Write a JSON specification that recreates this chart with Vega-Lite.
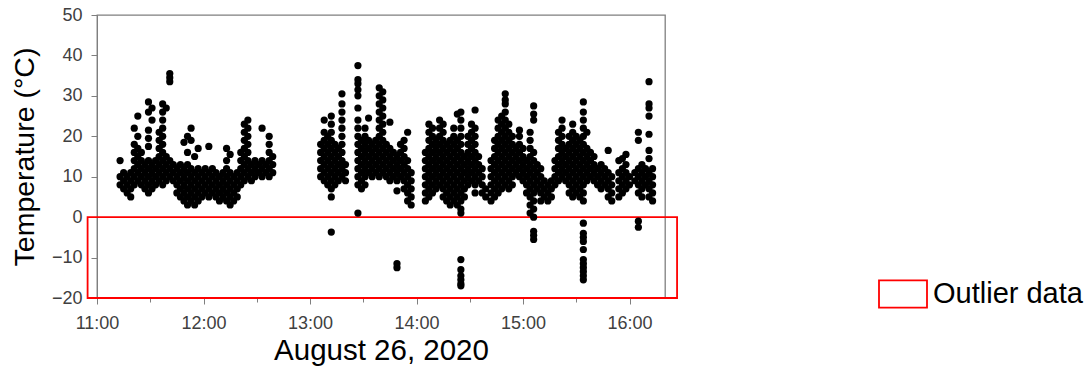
{
"$schema": "https://vega.github.io/schema/vega-lite/v6.json",
"width": 568, "height": 283,
"autosize": {"type": "none"},
"padding": {"left": 97, "top": 15, "right": 424, "bottom": 74},
"config": {"view": {"stroke": "#7f7f7f", "strokeWidth": 1.3}, "font": "Liberation Sans"},
"layer": [
{"data": {"values": [{"x1": -5.3, "x2": 326.8, "y1": -20, "y2": 0, "kind": "Outlier data"}]},
 "mark": {"type": "rect", "filled": false, "strokeWidth": 1.8},
 "encoding": {
  "x": {"field": "x1", "type": "quantitative", "scale": {"domain": [0, 320], "nice": false, "zero": false},
   "axis": {"title": "August 26, 2020", "titleFontSize": 29.5, "titleFontWeight": "normal", "titleColor": "#000", "titlePadding": 4,
    "values": [0, 30, 60, 90, 120, 150, 180, 210, 240, 270, 300],
    "labelExpr": "datum.value % 60 === 0 ? (11 + datum.value / 60) + ':00' : ''",
    "labelFontSize": 18, "labelColor": "#404040", "labelPadding": 10, "labelFlush": false,
    "tickSize": {"condition": {"test": "datum.value % 60 === 0", "value": 6}, "value": 4},
    "tickColor": "#7f7f7f", "domainColor": "#7f7f7f", "grid": false}},
  "x2": {"field": "x2"},
  "y": {"field": "y1", "type": "quantitative", "scale": {"domain": [-20, 50], "nice": false},
   "axis": {"title": "Temperature (°C)", "titleFontSize": 28.5, "titleFontWeight": "normal", "titleColor": "#000", "titlePadding": 12,
    "values": [-20, -10, 0, 10, 20, 30, 40, 50], "labelFontSize": 18, "labelColor": "#404040", "labelPadding": 9, "labelFlush": false,
    "tickSize": 6, "tickColor": "#7f7f7f", "domainColor": "#7f7f7f", "grid": false}},
  "y2": {"field": "y2"},
  "color": {"field": "kind", "type": "nominal", "scale": {"range": ["#ff0000"]},
   "legend": {"title": null, "orient": "none", "legendX": 781, "legendY": 254, "padding": 0,
    "symbolType": "M-1,-0.57H1V0.57H-1Z", "symbolSize": 2304, "symbolStrokeWidth": 1.8, "symbolFillColor": "transparent",
    "labelFontSize": 29, "labelColor": "#000", "labelOffset": 5, "labelLimit": 400}}
 }},
{"data": {"values": [
{"min":13,"temp":8},{"min":13,"temp":10},{"min":13,"temp":14},
{"min":15,"temp":7},{"min":15,"temp":9},{"min":15,"temp":11},
{"min":17,"temp":6},{"min":17,"temp":8},{"min":17,"temp":10},
{"min":19,"temp":5},{"min":19,"temp":7},{"min":19,"temp":9},{"min":19,"temp":11},
{"min":21,"temp":8},{"min":21,"temp":10},{"min":21,"temp":12},{"min":21,"temp":14},{"min":21,"temp":16},{"min":21,"temp":18},{"min":21,"temp":22},
{"min":23,"temp":9},{"min":23,"temp":11},{"min":23,"temp":13},{"min":23,"temp":15},{"min":23,"temp":17},{"min":23,"temp":20},{"min":23,"temp":25},
{"min":25,"temp":8},{"min":25,"temp":10},{"min":25,"temp":12},{"min":25,"temp":14},{"min":25,"temp":16},
{"min":27,"temp":7},{"min":27,"temp":9},{"min":27,"temp":11},{"min":27,"temp":13},
{"min":29,"temp":6},{"min":29,"temp":8},{"min":29,"temp":10},{"min":29,"temp":12},{"min":29,"temp":14},{"min":29,"temp":17.5},{"min":29,"temp":19.5},{"min":29,"temp":21.5},{"min":29,"temp":26},{"min":29,"temp":28.5},
{"min":31,"temp":7},{"min":31,"temp":9},{"min":31,"temp":11},{"min":31,"temp":13},{"min":31,"temp":24},{"min":31,"temp":27},
{"min":33,"temp":8},{"min":33,"temp":10},{"min":33,"temp":12},{"min":33,"temp":14},
{"min":35,"temp":9},{"min":35,"temp":11},{"min":35,"temp":13},{"min":35,"temp":15},{"min":35,"temp":17},{"min":35,"temp":19},{"min":35,"temp":21},
{"min":37,"temp":8},{"min":37,"temp":10},{"min":37,"temp":12},{"min":37,"temp":14},{"min":37,"temp":16},{"min":37,"temp":18},{"min":37,"temp":20},{"min":37,"temp":22},{"min":37,"temp":24},{"min":37,"temp":26},{"min":37,"temp":28},
{"min":39,"temp":9},{"min":39,"temp":11},{"min":39,"temp":13},{"min":39,"temp":15},{"min":39,"temp":27},
{"min":41,"temp":10},{"min":41,"temp":12},{"min":41,"temp":14},{"min":41,"temp":33.5},{"min":41,"temp":34.5},{"min":41,"temp":35.5},
{"min":43,"temp":9},{"min":43,"temp":11},{"min":43,"temp":13},
{"min":45,"temp":6},{"min":45,"temp":8},{"min":45,"temp":10},{"min":45,"temp":12},
{"min":47,"temp":5},{"min":47,"temp":7},{"min":47,"temp":9},{"min":47,"temp":11},{"min":47,"temp":13},
{"min":49,"temp":4},{"min":49,"temp":6},{"min":49,"temp":8},{"min":49,"temp":10},{"min":49,"temp":12},{"min":49,"temp":18.5},
{"min":51,"temp":3},{"min":51,"temp":5},{"min":51,"temp":7},{"min":51,"temp":9},{"min":51,"temp":11},{"min":51,"temp":13},{"min":51,"temp":16},{"min":51,"temp":20},
{"min":53,"temp":4},{"min":53,"temp":6},{"min":53,"temp":8},{"min":53,"temp":10},{"min":53,"temp":12},{"min":53,"temp":19},{"min":53,"temp":22},
{"min":55,"temp":3},{"min":55,"temp":5},{"min":55,"temp":7},{"min":55,"temp":9},{"min":55,"temp":11},{"min":55,"temp":15},
{"min":57,"temp":4},{"min":57,"temp":6},{"min":57,"temp":8},{"min":57,"temp":10},{"min":57,"temp":12},{"min":57,"temp":17},
{"min":59,"temp":5},{"min":59,"temp":7},{"min":59,"temp":9},{"min":59,"temp":11},
{"min":61,"temp":6},{"min":61,"temp":8},{"min":61,"temp":10},{"min":61,"temp":12},
{"min":63,"temp":5},{"min":63,"temp":7},{"min":63,"temp":9},{"min":63,"temp":11},{"min":63,"temp":17.5},
{"min":65,"temp":6},{"min":65,"temp":8},{"min":65,"temp":10},{"min":65,"temp":12},
{"min":67,"temp":5},{"min":67,"temp":7},{"min":67,"temp":9},{"min":67,"temp":11},
{"min":69,"temp":4},{"min":69,"temp":6},{"min":69,"temp":8},{"min":69,"temp":10},
{"min":71,"temp":5},{"min":71,"temp":7},{"min":71,"temp":9},{"min":71,"temp":11},
{"min":73,"temp":4},{"min":73,"temp":6},{"min":73,"temp":8},{"min":73,"temp":10},{"min":73,"temp":12},{"min":73,"temp":14},{"min":73,"temp":17},
{"min":75,"temp":3},{"min":75,"temp":5},{"min":75,"temp":7},{"min":75,"temp":9},{"min":75,"temp":11},{"min":75,"temp":15.5},
{"min":77,"temp":4},{"min":77,"temp":6},{"min":77,"temp":8},{"min":77,"temp":10},
{"min":79,"temp":5},{"min":79,"temp":7},{"min":79,"temp":9},{"min":79,"temp":11},
{"min":81,"temp":8},{"min":81,"temp":10},{"min":81,"temp":12},{"min":81,"temp":14},{"min":81,"temp":16},
{"min":83,"temp":9},{"min":83,"temp":11},{"min":83,"temp":13},{"min":83,"temp":15},{"min":83,"temp":17},{"min":83,"temp":19},{"min":83,"temp":21},{"min":83,"temp":23},
{"min":85,"temp":10},{"min":85,"temp":12},{"min":85,"temp":14},{"min":85,"temp":16},{"min":85,"temp":18},{"min":85,"temp":20},{"min":85,"temp":22},{"min":85,"temp":24},
{"min":87,"temp":9},{"min":87,"temp":11},{"min":87,"temp":13},
{"min":89,"temp":10},{"min":89,"temp":12},{"min":89,"temp":14},
{"min":91,"temp":11},{"min":91,"temp":13},
{"min":93,"temp":10},{"min":93,"temp":12},{"min":93,"temp":14},{"min":93,"temp":22},
{"min":95,"temp":11},{"min":95,"temp":13},
{"min":97,"temp":10},{"min":97,"temp":12},{"min":97,"temp":14},{"min":97,"temp":16},{"min":97,"temp":18},{"min":97,"temp":20},
{"min":99,"temp":11},{"min":99,"temp":13},{"min":99,"temp":15},
{"min":126,"temp":10},{"min":126,"temp":12},{"min":126,"temp":14},{"min":126,"temp":16},{"min":126,"temp":18},
{"min":128,"temp":9},{"min":128,"temp":11},{"min":128,"temp":13},{"min":128,"temp":15},{"min":128,"temp":17},{"min":128,"temp":19},{"min":128,"temp":21},{"min":128,"temp":24},
{"min":130,"temp":8},{"min":130,"temp":10},{"min":130,"temp":12},{"min":130,"temp":14},{"min":130,"temp":16},{"min":130,"temp":18},{"min":130,"temp":20},
{"min":132,"temp":5},{"min":132,"temp":7},{"min":132,"temp":9},{"min":132,"temp":11},{"min":132,"temp":13},{"min":132,"temp":15},{"min":132,"temp":17},{"min":132,"temp":19},{"min":132,"temp":21},{"min":132,"temp":23},{"min":132,"temp":25},{"min":132,"temp":-3.7},
{"min":134,"temp":8},{"min":134,"temp":10},{"min":134,"temp":12},{"min":134,"temp":14},{"min":134,"temp":16},{"min":134,"temp":18},
{"min":136,"temp":9},{"min":136,"temp":11},{"min":136,"temp":13},{"min":136,"temp":15},{"min":136,"temp":17},
{"min":138,"temp":10},{"min":138,"temp":12},{"min":138,"temp":14},{"min":138,"temp":16},{"min":138,"temp":18},{"min":138,"temp":20},{"min":138,"temp":22},{"min":138,"temp":24},{"min":138,"temp":26},{"min":138,"temp":28},{"min":138,"temp":30.5},
{"min":140,"temp":9},{"min":140,"temp":11},{"min":140,"temp":13},
{"min":147,"temp":8},{"min":147,"temp":10},{"min":147,"temp":12},{"min":147,"temp":14},{"min":147,"temp":16},{"min":147,"temp":18},{"min":147,"temp":20},{"min":147,"temp":22},{"min":147,"temp":24},{"min":147,"temp":27},{"min":147,"temp":30},{"min":147,"temp":31.5},{"min":147,"temp":33},{"min":147,"temp":34},{"min":147,"temp":37.5},{"min":147,"temp":1},
{"min":149,"temp":7},{"min":149,"temp":9},{"min":149,"temp":11},{"min":149,"temp":13},{"min":149,"temp":15},{"min":149,"temp":17},{"min":149,"temp":19},
{"min":151,"temp":8},{"min":151,"temp":10},{"min":151,"temp":12},{"min":151,"temp":14},{"min":151,"temp":16},{"min":151,"temp":18},{"min":151,"temp":20},{"min":151,"temp":22},
{"min":153,"temp":11},{"min":153,"temp":13},{"min":153,"temp":15},{"min":153,"temp":17},{"min":153,"temp":19},{"min":153,"temp":24.5},
{"min":155,"temp":10},{"min":155,"temp":12},{"min":155,"temp":14},{"min":155,"temp":16},{"min":155,"temp":18},
{"min":157,"temp":11},{"min":157,"temp":13},{"min":157,"temp":15},{"min":157,"temp":17},{"min":157,"temp":19},
{"min":159,"temp":10},{"min":159,"temp":12},{"min":159,"temp":14},{"min":159,"temp":16},{"min":159,"temp":18},{"min":159,"temp":20},{"min":159,"temp":22},{"min":159,"temp":24},{"min":159,"temp":26},{"min":159,"temp":28},{"min":159,"temp":30},{"min":159,"temp":32},
{"min":161,"temp":11},{"min":161,"temp":13},{"min":161,"temp":15},{"min":161,"temp":17},{"min":161,"temp":19},{"min":161,"temp":21},{"min":161,"temp":23},{"min":161,"temp":25},{"min":161,"temp":27},{"min":161,"temp":29},{"min":161,"temp":31},
{"min":163,"temp":10},{"min":163,"temp":12},{"min":163,"temp":14},{"min":163,"temp":16},{"min":163,"temp":18},
{"min":165,"temp":9},{"min":165,"temp":11},{"min":165,"temp":13},{"min":165,"temp":15},{"min":165,"temp":17},{"min":165,"temp":23.5},
{"min":167,"temp":10},{"min":167,"temp":12},{"min":167,"temp":14},{"min":167,"temp":16},
{"min":169,"temp":9},{"min":169,"temp":11},{"min":169,"temp":13},{"min":169,"temp":15},{"min":169,"temp":6.5},{"min":169,"temp":-11.5},{"min":169,"temp":-12.5},
{"min":171,"temp":10},{"min":171,"temp":12},{"min":171,"temp":14},{"min":171,"temp":16},{"min":171,"temp":18},
{"min":173,"temp":7},{"min":173,"temp":9},{"min":173,"temp":11},{"min":173,"temp":13},{"min":173,"temp":15},{"min":173,"temp":17},{"min":173,"temp":19},
{"min":175,"temp":4},{"min":175,"temp":6},{"min":175,"temp":8},{"min":175,"temp":10},{"min":175,"temp":12},{"min":175,"temp":14},{"min":175,"temp":21},
{"min":177,"temp":3},{"min":177,"temp":5},{"min":177,"temp":7},{"min":177,"temp":9},{"min":177,"temp":11},
{"min":185,"temp":4},{"min":185,"temp":6},{"min":185,"temp":8},{"min":185,"temp":10},{"min":185,"temp":12},{"min":185,"temp":14},{"min":185,"temp":16},
{"min":187,"temp":5},{"min":187,"temp":7},{"min":187,"temp":9},{"min":187,"temp":11},{"min":187,"temp":13},{"min":187,"temp":15},{"min":187,"temp":17},{"min":187,"temp":19},{"min":187,"temp":21},{"min":187,"temp":23},
{"min":189,"temp":6},{"min":189,"temp":8},{"min":189,"temp":10},{"min":189,"temp":12},{"min":189,"temp":14},{"min":189,"temp":16},{"min":189,"temp":18},{"min":189,"temp":20},{"min":189,"temp":22},
{"min":191,"temp":7},{"min":191,"temp":9},{"min":191,"temp":11},{"min":191,"temp":13},{"min":191,"temp":15},{"min":191,"temp":17},{"min":191,"temp":19},
{"min":193,"temp":8},{"min":193,"temp":10},{"min":193,"temp":12},{"min":193,"temp":14},{"min":193,"temp":16},{"min":193,"temp":18},{"min":193,"temp":20},{"min":193,"temp":22},{"min":193,"temp":24},
{"min":195,"temp":5},{"min":195,"temp":7},{"min":195,"temp":9},{"min":195,"temp":11},{"min":195,"temp":13},{"min":195,"temp":15},{"min":195,"temp":17},{"min":195,"temp":19},{"min":195,"temp":21},{"min":195,"temp":23},
{"min":197,"temp":4},{"min":197,"temp":6},{"min":197,"temp":8},{"min":197,"temp":10},{"min":197,"temp":12},{"min":197,"temp":14},{"min":197,"temp":16},{"min":197,"temp":18},
{"min":199,"temp":3},{"min":199,"temp":5},{"min":199,"temp":7},{"min":199,"temp":9},{"min":199,"temp":11},{"min":199,"temp":13},{"min":199,"temp":15},{"min":199,"temp":17},{"min":199,"temp":19},
{"min":201,"temp":4},{"min":201,"temp":6},{"min":201,"temp":8},{"min":201,"temp":10},{"min":201,"temp":12},{"min":201,"temp":14},{"min":201,"temp":16},{"min":201,"temp":18},{"min":201,"temp":20},{"min":201,"temp":22},
{"min":203,"temp":3},{"min":203,"temp":5},{"min":203,"temp":7},{"min":203,"temp":9},{"min":203,"temp":11},{"min":203,"temp":13},{"min":203,"temp":15},{"min":203,"temp":17},{"min":203,"temp":19},{"min":203,"temp":25.5},
{"min":205,"temp":2},{"min":205,"temp":4},{"min":205,"temp":6},{"min":205,"temp":8},{"min":205,"temp":10},{"min":205,"temp":12},{"min":205,"temp":14},{"min":205,"temp":16},{"min":205,"temp":18},{"min":205,"temp":20},{"min":205,"temp":22},{"min":205,"temp":24},{"min":205,"temp":26},{"min":205,"temp":1},{"min":205,"temp":-10.5},{"min":205,"temp":-13},{"min":205,"temp":-14.5},{"min":205,"temp":-15.5},{"min":205,"temp":-16.5},{"min":205,"temp":-17},
{"min":207,"temp":5},{"min":207,"temp":7},{"min":207,"temp":9},{"min":207,"temp":11},{"min":207,"temp":13},{"min":207,"temp":15},
{"min":209,"temp":8},{"min":209,"temp":10},{"min":209,"temp":12},{"min":209,"temp":14},{"min":209,"temp":16},{"min":209,"temp":18},{"min":209,"temp":20},
{"min":211,"temp":9},{"min":211,"temp":11},{"min":211,"temp":13},{"min":211,"temp":15},{"min":211,"temp":17},{"min":211,"temp":19},{"min":211,"temp":21},{"min":211,"temp":23},
{"min":213,"temp":6},{"min":213,"temp":8},{"min":213,"temp":10},{"min":213,"temp":12},{"min":213,"temp":14},{"min":213,"temp":16},{"min":213,"temp":18},{"min":213,"temp":20},{"min":213,"temp":22},{"min":213,"temp":26.5},
{"min":215,"temp":9},{"min":215,"temp":11},{"min":215,"temp":13},{"min":215,"temp":15},
{"min":217,"temp":6},{"min":217,"temp":8},{"min":217,"temp":10},{"min":217,"temp":12},
{"min":219,"temp":5},{"min":219,"temp":7},
{"min":222,"temp":4},{"min":222,"temp":6},{"min":222,"temp":8},{"min":222,"temp":10},{"min":222,"temp":12},{"min":222,"temp":14},
{"min":224,"temp":5},{"min":224,"temp":7},{"min":224,"temp":9},{"min":224,"temp":11},{"min":224,"temp":13},{"min":224,"temp":15},{"min":224,"temp":17},{"min":224,"temp":19},
{"min":226,"temp":6},{"min":226,"temp":8},{"min":226,"temp":10},{"min":226,"temp":12},{"min":226,"temp":14},{"min":226,"temp":16},{"min":226,"temp":18},{"min":226,"temp":20},{"min":226,"temp":22},{"min":226,"temp":24},
{"min":228,"temp":7},{"min":228,"temp":9},{"min":228,"temp":11},{"min":228,"temp":13},{"min":228,"temp":15},{"min":228,"temp":17},{"min":228,"temp":19},{"min":228,"temp":21},{"min":228,"temp":23},{"min":228,"temp":25},
{"min":230,"temp":8},{"min":230,"temp":10},{"min":230,"temp":12},{"min":230,"temp":14},{"min":230,"temp":16},{"min":230,"temp":18},{"min":230,"temp":20},{"min":230,"temp":22},{"min":230,"temp":24},{"min":230,"temp":26},{"min":230,"temp":28},{"min":230,"temp":29},{"min":230,"temp":30.5},
{"min":232,"temp":7},{"min":232,"temp":9},{"min":232,"temp":11},{"min":232,"temp":13},{"min":232,"temp":15},{"min":232,"temp":17},{"min":232,"temp":19},{"min":232,"temp":21},{"min":232,"temp":23},
{"min":234,"temp":8},{"min":234,"temp":10},{"min":234,"temp":12},{"min":234,"temp":14},{"min":234,"temp":16},{"min":234,"temp":18},{"min":234,"temp":20},
{"min":236,"temp":11},{"min":236,"temp":13},{"min":236,"temp":15},{"min":236,"temp":17},
{"min":238,"temp":10},{"min":238,"temp":12},{"min":238,"temp":14},{"min":238,"temp":16},{"min":238,"temp":18},{"min":238,"temp":20},{"min":238,"temp":21.5},
{"min":240,"temp":9},{"min":240,"temp":11},{"min":240,"temp":13},{"min":240,"temp":15},{"min":240,"temp":17},
{"min":242,"temp":6},{"min":242,"temp":8},{"min":242,"temp":10},{"min":242,"temp":12},{"min":242,"temp":14},
{"min":244,"temp":1},{"min":244,"temp":3},{"min":244,"temp":5},{"min":244,"temp":7},{"min":244,"temp":9},{"min":244,"temp":11},{"min":244,"temp":13},{"min":244,"temp":15},{"min":244,"temp":17},{"min":244,"temp":19},{"min":244,"temp":21},
{"min":246,"temp":0},{"min":246,"temp":2},{"min":246,"temp":4},{"min":246,"temp":6},{"min":246,"temp":8},{"min":246,"temp":10},{"min":246,"temp":12},{"min":246,"temp":14},{"min":246,"temp":16},{"min":246,"temp":24},{"min":246,"temp":25.5},{"min":246,"temp":27.5},{"min":246,"temp":-3.5},{"min":246,"temp":-4.5},{"min":246,"temp":-5.5},
{"min":248,"temp":7},{"min":248,"temp":9},{"min":248,"temp":11},{"min":248,"temp":13},
{"min":250,"temp":4},{"min":250,"temp":6},{"min":250,"temp":8},{"min":250,"temp":10},{"min":250,"temp":12},
{"min":252,"temp":5},{"min":252,"temp":7},{"min":252,"temp":9},
{"min":254,"temp":4},{"min":254,"temp":6},{"min":254,"temp":8},
{"min":256,"temp":5},{"min":256,"temp":7},{"min":256,"temp":9},
{"min":258,"temp":8},{"min":258,"temp":10},{"min":258,"temp":12},{"min":258,"temp":14},
{"min":260,"temp":9},{"min":260,"temp":11},{"min":260,"temp":13},{"min":260,"temp":15},{"min":260,"temp":17},{"min":260,"temp":19},{"min":260,"temp":21},
{"min":262,"temp":10},{"min":262,"temp":12},{"min":262,"temp":14},{"min":262,"temp":16},{"min":262,"temp":18},{"min":262,"temp":20},{"min":262,"temp":22},{"min":262,"temp":24},
{"min":264,"temp":9},{"min":264,"temp":11},{"min":264,"temp":13},{"min":264,"temp":15},{"min":264,"temp":17},
{"min":266,"temp":6},{"min":266,"temp":8},{"min":266,"temp":10},{"min":266,"temp":12},{"min":266,"temp":14},{"min":266,"temp":16},{"min":266,"temp":18},{"min":266,"temp":20},
{"min":268,"temp":5},{"min":268,"temp":7},{"min":268,"temp":9},{"min":268,"temp":11},{"min":268,"temp":13},{"min":268,"temp":15},{"min":268,"temp":17},{"min":268,"temp":19},{"min":268,"temp":21},{"min":268,"temp":23},
{"min":270,"temp":6},{"min":270,"temp":8},{"min":270,"temp":10},{"min":270,"temp":12},{"min":270,"temp":14},{"min":270,"temp":16},{"min":270,"temp":18},{"min":270,"temp":20},
{"min":272,"temp":5},{"min":272,"temp":7},{"min":272,"temp":9},{"min":272,"temp":11},{"min":272,"temp":13},{"min":272,"temp":15},{"min":272,"temp":17},{"min":272,"temp":19},
{"min":274,"temp":4},{"min":274,"temp":6},{"min":274,"temp":8},{"min":274,"temp":10},{"min":274,"temp":12},{"min":274,"temp":14},{"min":274,"temp":16},{"min":274,"temp":18},{"min":274,"temp":20},{"min":274,"temp":22},{"min":274,"temp":24},{"min":274,"temp":26},{"min":274,"temp":28.5},{"min":274,"temp":-1.5},{"min":274,"temp":-4},{"min":274,"temp":-5},{"min":274,"temp":-6},{"min":274,"temp":-8},{"min":274,"temp":-10.5},{"min":274,"temp":-11.5},{"min":274,"temp":-12.5},{"min":274,"temp":-13.5},{"min":274,"temp":-14.5},{"min":274,"temp":-15.5},
{"min":276,"temp":9},{"min":276,"temp":11},{"min":276,"temp":13},{"min":276,"temp":15},{"min":276,"temp":17},{"min":276,"temp":21},
{"min":278,"temp":10},{"min":278,"temp":12},{"min":278,"temp":14},{"min":278,"temp":16},
{"min":280,"temp":9},{"min":280,"temp":11},{"min":280,"temp":13},{"min":280,"temp":15},
{"min":282,"temp":8},{"min":282,"temp":10},{"min":282,"temp":12},
{"min":284,"temp":7},{"min":284,"temp":9},{"min":284,"temp":11},{"min":284,"temp":13},
{"min":286,"temp":8},{"min":286,"temp":10},{"min":286,"temp":12},
{"min":288,"temp":5},{"min":288,"temp":7},{"min":288,"temp":9},{"min":288,"temp":11},{"min":288,"temp":16.5},
{"min":290,"temp":4},{"min":290,"temp":6},{"min":290,"temp":8},{"min":290,"temp":10},
{"min":294,"temp":5},{"min":294,"temp":7},{"min":294,"temp":9},{"min":294,"temp":11},{"min":294,"temp":14},
{"min":296,"temp":6},{"min":296,"temp":8},{"min":296,"temp":10},{"min":296,"temp":12},{"min":296,"temp":14.5},
{"min":298,"temp":7},{"min":298,"temp":9},{"min":298,"temp":11},{"min":298,"temp":13},{"min":298,"temp":15.5},
{"min":300,"temp":8},{"min":300,"temp":10},
{"min":303,"temp":9},{"min":303,"temp":11},
{"min":305,"temp":6},{"min":305,"temp":8},{"min":305,"temp":10},{"min":305,"temp":12},{"min":305,"temp":19},{"min":305,"temp":21},{"min":305,"temp":-1},{"min":305,"temp":-2.5},
{"min":307,"temp":5},{"min":307,"temp":7},{"min":307,"temp":9},{"min":307,"temp":11},{"min":307,"temp":13},
{"min":309,"temp":8},{"min":309,"temp":10},{"min":309,"temp":12},
{"min":311,"temp":5},{"min":311,"temp":7},{"min":311,"temp":9},{"min":311,"temp":11},{"min":311,"temp":14.5},{"min":311,"temp":16.5},{"min":311,"temp":20.5},{"min":311,"temp":25},{"min":311,"temp":27},{"min":311,"temp":28},{"min":311,"temp":33.5},
{"min":313,"temp":4},{"min":313,"temp":6},{"min":313,"temp":8},{"min":313,"temp":10},{"min":313,"temp":12}
]},
 "mark": {"type": "circle", "size": 52, "color": "#000", "opacity": 1},
 "encoding": {
  "x": {"field": "min", "type": "quantitative"},
  "y": {"field": "temp", "type": "quantitative"}
 }}
]
}
